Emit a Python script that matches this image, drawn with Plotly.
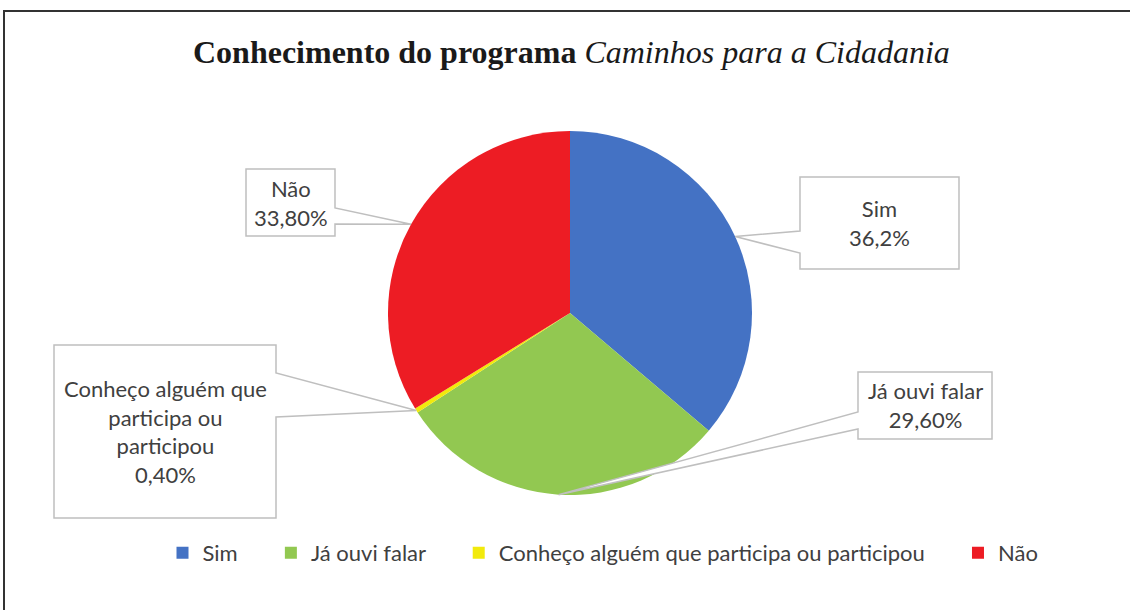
import math
import plotly.graph_objects as go

W, H = 1130, 610

# Data
labels = ["Sim", "Já ouvi falar", "Conheço alguém que participa ou participou", "Não"]
values = [36.2, 29.6, 0.4, 33.8]
value_text = ["36,2%", "29,60%", "0,40%", "33,80%"]
box_text = ["Sim", "Já ouvi falar", "Conheço alguém que<br>participa ou<br>participou", "Não"]
colors = ["#4472C4", "#92C851", "#F2EA0C", "#ED1C24"]

# pie geometry (pixels)
cx, cy, r = 570, 313, 182


def px(x, y):
    return x / W, 1 - y / H


# callout boxes: x0, y0, x1, y1, side of the pointer, pointer y range
boxes = [
    (800, 177, 959, 269, "left", 231, 253),
    (858, 372, 992, 439, "left", 412, 429),
    (54, 345, 276, 518, "right", 373, 417),
    (246, 169, 335, 236, "right", 208, 224),
]

# legend entries get some trailing space so the items spread like the original
legend_labels = [lab + ("\u00a0" * 5 if i < len(labels) - 1 else "") for i, lab in enumerate(labels)]

fig = go.Figure(go.Pie(
    labels=legend_labels, values=values, sort=False, direction="clockwise", rotation=0,
    marker=dict(colors=colors, line=dict(width=0)),
    textinfo="none", hoverinfo="label+percent",
    domain=dict(x=[(cx - r) / W, (cx + r) / W], y=[1 - (cy + r) / H, 1 - (cy - r) / H]),
))

shapes = []
annotations = []
total = sum(values)
cum = 0
for i, v in enumerate(values):
    mid = (cum + v / 2) / total * 2 * math.pi
    cum += v
    tx = cx + r * math.sin(mid)
    ty = cy - r * math.cos(mid)
    x0, y0, x1, y1, side, pa, pb = boxes[i]
    if side == "left":
        pts = [(x0, y0), (x1, y0), (x1, y1), (x0, y1), (x0, pb), (tx, ty), (x0, pa)]
    else:
        pts = [(x0, y0), (x1, y0), (x1, pa), (tx, ty), (x1, pb), (x1, y1), (x0, y1)]
    path = "M " + " L ".join("%.5f,%.5f" % px(a, b) for a, b in pts) + " Z"
    shapes.append(dict(type="path", xref="paper", yref="paper", path=path,
                       fillcolor="white", line=dict(color="#BFBFBF", width=1.5)))
    ax, ay = px((x0 + x1) / 2, (y0 + y1) / 2)
    annotations.append(dict(x=ax, y=ay, xref="paper", yref="paper", showarrow=False,
                            text=box_text[i] + "<br>" + value_text[i],
                            font=dict(family="Lato", size=22, color="#404040"),
                            align="center", xanchor="center", yanchor="middle"))

# outer frame
shapes.append(dict(type="rect", xref="paper", yref="paper", x0=4 / W, y0=-0.02, x1=1.02, y1=1 - 11 / H,
                   line=dict(color="#333333", width=2), fillcolor="rgba(0,0,0,0)", layer="below"))

annotations.append(dict(
    x=px(571, 52)[0], y=px(571, 52)[1], xref="paper", yref="paper", showarrow=False,
    text="<b>Conhecimento do programa</b> <i>Caminhos para a Cidadania</i>",
    font=dict(family="Liberation Serif", size=32, color="#1a1a1a"),
    xanchor="center", yanchor="middle"))

fig.update_layout(
    width=W, height=H, margin=dict(l=0, r=0, t=0, b=0),
    paper_bgcolor="white", plot_bgcolor="white",
    shapes=shapes, annotations=annotations,
    showlegend=True,
    legend=dict(orientation="h", x=603 / W, xanchor="center", y=1 - 553 / H, yanchor="middle",
                font=dict(family="Lato", size=22, color="#404040"), itemwidth=30,
                traceorder="normal"),
)

fig.write_html("out.html", config={"displayModeBar": False},
               post_script="document.body.style.margin='0';")
